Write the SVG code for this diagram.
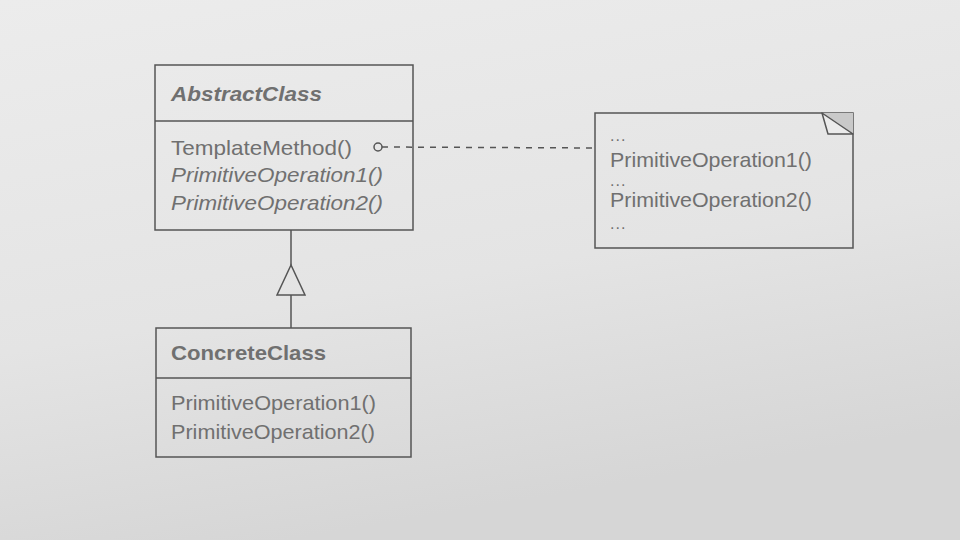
<svg xmlns="http://www.w3.org/2000/svg" width="960" height="540" viewBox="0 0 960 540">
  <defs>
    <linearGradient id="bg" x1="0" y1="0" x2="0.3" y2="1">
      <stop offset="0" stop-color="#ececec"/>
      <stop offset="0.6" stop-color="#e4e4e4"/>
      <stop offset="1" stop-color="#d6d6d6"/>
    </linearGradient>
  </defs>
  <style>
    .box { fill: none; stroke: #555; stroke-width: 1.5; }
    .line { fill: none; stroke: #555; stroke-width: 1.5; }
    .txt { font-family: "Liberation Sans", Arial, sans-serif; font-size: 21px; fill: #707070; }
    .title { font-weight: bold; }
    .it { font-style: italic; }
    .dots { font-family: "Liberation Sans", Arial, sans-serif; font-size: 16px; fill: #707070; letter-spacing: 1px; }
  </style>
  <rect x="0" y="0" width="960" height="540" fill="url(#bg)"/>

  <g id="AbstractClass">
    <rect class="box" x="155" y="65" width="258" height="165"/>
    <line class="line" x1="155" y1="121" x2="413" y2="121"/>
    <text class="txt title it" x="171" y="101" textLength="151" lengthAdjust="spacingAndGlyphs">AbstractClass</text>
    <text class="txt" x="171" y="155" textLength="181" lengthAdjust="spacingAndGlyphs">TemplateMethod()</text>
    <text class="txt it" x="171" y="182" textLength="212" lengthAdjust="spacingAndGlyphs">PrimitiveOperation1()</text>
    <text class="txt it" x="171" y="210" textLength="212" lengthAdjust="spacingAndGlyphs">PrimitiveOperation2()</text>
  </g>

  <g id="ConcreteClass">
    <rect class="box" x="156" y="328" width="255" height="129"/>
    <line class="line" x1="156" y1="378" x2="411" y2="378"/>
    <text class="txt title" x="171" y="360" textLength="155" lengthAdjust="spacingAndGlyphs">ConcreteClass</text>
    <text class="txt" x="171" y="410" textLength="205" lengthAdjust="spacingAndGlyphs">PrimitiveOperation1()</text>
    <text class="txt" x="171" y="439" textLength="204" lengthAdjust="spacingAndGlyphs">PrimitiveOperation2()</text>
  </g>

  <g id="Note">
    <rect class="box" x="595" y="113" width="258" height="135"/>
    <polygon points="822,113 853,113 853,134" fill="#c9c9c9" stroke="none"/>
    <polygon points="822,113 828,134 853,134" fill="#ebebeb" stroke="#555" stroke-width="1.5" stroke-linejoin="round"/>
    <text class="dots" x="610" y="141">...</text>
    <text class="txt" x="610" y="167" textLength="202" lengthAdjust="spacingAndGlyphs">PrimitiveOperation1()</text>
    <text class="dots" x="610" y="186">...</text>
    <text class="txt" x="610" y="207" textLength="202" lengthAdjust="spacingAndGlyphs">PrimitiveOperation2()</text>
    <text class="dots" x="610" y="229">...</text>
  </g>

  <g id="connectors">
    <circle cx="378" cy="147" r="4" fill="none" stroke="#555" stroke-width="1.5"/>
    <line class="line" x1="382" y1="147" x2="595" y2="148" stroke-dasharray="6,6"/>
    <line class="line" x1="291" y1="230" x2="291" y2="265"/>
    <polygon points="291,265 277,295 305,295" fill="none" stroke="#555" stroke-width="1.5" stroke-linejoin="miter"/>
    <line class="line" x1="291" y1="295" x2="291" y2="328"/>
  </g>
</svg>
